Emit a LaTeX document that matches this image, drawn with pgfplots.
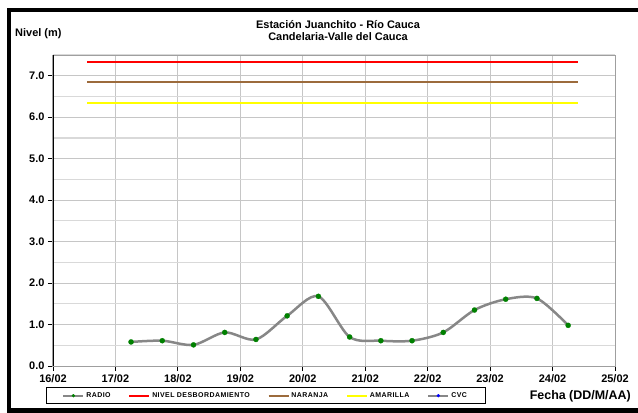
\documentclass[border=0pt]{standalone}
\usepackage{fontspec}
\setmainfont{Liberation Sans}
\newfontfamily\legfont[LetterSpace=6.5]{Liberation Sans}
\usepackage{pgfplots}
\pgfplotsset{compat=1.18}
\definecolor{brownline}{HTML}{9C6B3C}
\definecolor{yellowline}{HTML}{FFFF00}
\definecolor{radiogreen}{HTML}{008000}
\definecolor{radiogray}{HTML}{878787}
\begin{document}
\begin{tikzpicture}
\path[use as bounding box] (0bp,0bp) rectangle (638bp,413bp);
% outer frame
\fill[black] (7bp,401bp) rectangle (638bp,405bp);
\fill[black] (7bp,0bp) rectangle (11bp,405bp);
\fill[black] (7bp,0bp) rectangle (638bp,5bp);
\node[font=\fontsize{11}{12}\selectfont\bfseries, align=center, inner sep=0pt] at (338bp,382bp)
  {Estación Juanchito - Río Cauca\\Candelaria-Valle del Cauca};
\node[font=\fontsize{11}{12}\selectfont\bfseries, anchor=west, inner sep=0pt] at (15bp,379bp) {Nivel (m)};
\node[font=\fontsize{12.5}{14}\selectfont\bfseries, anchor=east, inner sep=0pt] at (631bp,17bp) {Fecha (DD/M/AA)};
\begin{axis}[
  at={(53bp,47bp)}, anchor=south west, scale only axis,
  width=562bp, height=311bp,
  xmin=16, xmax=25, ymin=0, ymax=7.5,
  xtick={16,...,25},
  xticklabels={16/02,17/02,18/02,19/02,20/02,21/02,22/02,23/02,24/02,25/02},
  ytick={0,1,...,7},
  yticklabels={0.0,1.0,2.0,3.0,4.0,5.0,6.0,7.0},
  minor ytick={0.5,1.5,...,7.5},
  /pgf/number format/assume math mode=true,
  grid=both,
  major grid style={color=gray!45, line width=0.9bp},
  minor grid style={color=gray!30, line width=1.2bp},
  tick align=outside, major tick length=5bp, minor tick length=0pt,
  xtick pos=lower, ytick pos=left,
  tick style={black, line width=0.8bp},
  axis line style={draw=gray!75, line width=1bp},
  ticklabel style={font=\fontsize{11}{12}\selectfont\bfseries},
  legend columns=5,
  legend image code/.code={\draw[mark repeat=2, mark phase=2, #1] plot coordinates {(0bp,0bp) (10bp,0bp) (20bp,0bp)};},
  legend style={at={(-0.01246,-0.0955)}, anchor=west, draw=black, line width=0.8bp,
    font=\legfont\fontsize{7}{8}\selectfont\bfseries,
    inner xsep=16bp, inner ysep=3bp,
    /tikz/every even column/.append style={column sep=16bp}},
  legend cell align=left,
]
\addplot[radiogray, line width=2.5bp, smooth, tension=0.5, forget plot,
  mark=*, mark size=2.6bp, mark options={solid, line width=0.2bp, draw=radiogreen, fill=radiogreen}]
  coordinates {
  (17.25,0.58) (17.75,0.61) (18.25,0.51) (18.75,0.81) (19.25,0.64)
  (19.75,1.21) (20.25,1.68) (20.75,0.70) (21.25,0.61) (21.75,0.61)
  (22.25,0.81) (22.75,1.35) (23.25,1.61) (23.75,1.63) (24.25,0.98)
  };
\addplot[red, line width=2bp, forget plot] coordinates {(16.55,7.34) (24.4,7.34)};
\addplot[brownline, line width=2bp, forget plot] coordinates {(16.55,6.84) (24.4,6.84)};
\addplot[yellowline, line width=2bp, forget plot] coordinates {(16.55,6.35) (24.4,6.35)};
\draw[black, line width=0.8bp] (rel axis cs:0,0) -- (rel axis cs:0,1);
\draw[black, line width=0.8bp] (rel axis cs:0,0) -- (rel axis cs:1,0);
\addlegendimage{radiogray, line width=2bp, mark=*, mark size=1.6bp, mark options={solid, line width=0.1bp, draw=radiogreen, fill=radiogreen}}
\addlegendentry{RADIO}
\addlegendimage{red, line width=1.6bp}
\addlegendentry{NIVEL DESBORDAMIENTO}
\addlegendimage{brownline, line width=1.6bp}
\addlegendentry{NARANJA}
\addlegendimage{yellowline, line width=1.6bp}
\addlegendentry{AMARILLA}
\addlegendimage{radiogray, line width=2bp, mark=*, mark size=1.6bp, mark options={solid, line width=0.1bp, draw=blue, fill=blue}}
\addlegendentry{CVC}
\end{axis}
\end{tikzpicture}
\end{document}
